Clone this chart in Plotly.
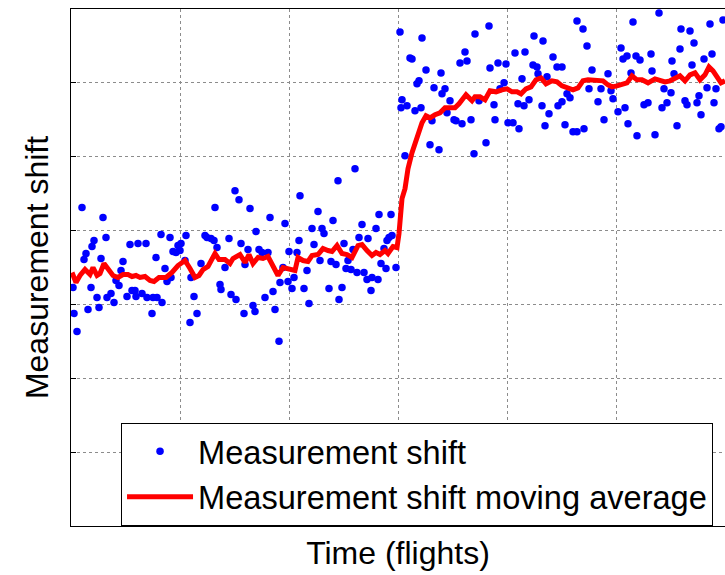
import plotly.graph_objects as go

# Scatter data (time index, shift value) (arbitrary units)
flight = [2, 3, 6, 11, 13, 15, 17, 20, 21, 23, 26, 28, 30, 32, 35, 36, 40, 43, 45, 48, 50, 52, 56, 59, 61, 64, 65, 67, 71, 75, 76, 81, 82, 85, 86, 90, 91, 94, 96, 99, 100, 102, 105, 107, 109, 110, 114, 115, 119, 120, 123, 126, 130, 134, 136, 140, 143, 144, 146, 149, 150, 154, 158, 160, 164, 165, 168, 170, 173, 174, 177, 179, 182, 184, 185, 188, 191, 194, 197, 199, 202, 204, 208, 209, 212, 214, 217, 218, 221, 223, 226, 228, 229, 233, 236, 238, 241, 243, 247, 249, 251, 253, 258, 260, 262, 265, 267, 268, 271, 273, 275, 277, 280, 282, 284, 286, 288, 291, 293, 296, 297, 300, 301, 305, 307, 308, 310, 313, 315, 316, 318, 320, 321, 325,
          329, 330, 331, 334, 336, 339, 341, 344, 346, 348, 350, 351, 355, 359, 361, 363, 368, 370, 371, 374, 376, 379, 383, 385, 389, 391, 394, 396, 400, 403, 404, 408, 415, 418, 419, 423, 424, 427, 429, 433, 435, 437, 442, 444, 447, 448, 451, 453, 454, 458, 462, 463, 466, 467, 471, 472, 474, 476, 478, 482, 486, 487, 491, 491, 494, 496, 499, 502, 506, 506, 512, 513, 516, 518, 521, 527, 530, 533, 537, 540, 542, 547, 550, 552, 554, 556, 557, 560, 562, 565, 566, 569, 573, 577, 580, 581, 584, 588, 591, 593, 596, 600, 601, 603, 606, 609, 610, 614, 616, 619, 621, 623, 626, 628, 630, 633, 636, 639, 641, 643, 645, 648, 650, 652]
shift = [239, 213, 195, 319, 267, 273, 217, 239, 280, 286, 229, 219, 268, 309, 289, 229, 233, 224, 246, 241, 256, 265, 230, 282, 236, 236, 230, 283, 233, 283, 229, 213, 229, 269, 229, 292, 224, 258, 245, 289, 249, 275, 274, 281, 276, 283, 266, 291, 204, 249, 230, 213, 263, 291, 289, 288, 286, 319, 279, 242, 237, 259, 288, 232, 336, 227, 327, 283, 213, 262, 277, 318, 221, 215, 295, 277, 274, 229, 274, 309, 235, 217, 185, 244, 259, 303, 245, 275, 238, 249, 274, 286, 331, 238, 256, 223, 298, 282, 315, 266, 298, 293, 238, 265, 306, 262, 346, 227, 239, 283, 258, 266, 257, 277, 358, 254, 289, 302, 254, 247, 288, 236, 249, 298, 247, 312, 263, 278, 258, 286, 289, 312, 291, 259,
         495, 419, 427, 371, 421, 469, 468, 416, 443, 446, 419, 489, 457, 382, 406, 439, 377, 454, 433, 438, 414, 426, 407, 406, 464, 403, 475, 466, 407, 373, 493, 426, 384, 501, 459, 422, 407, 464, 438, 444, 463, 404, 404, 474, 423, 398, 448, 421, 475, 427, 462, 491, 460, 453, 421, 486, 401, 450, 413, 470, 460, 421, 425, 460, 402, 433, 429, 395, 395, 506, 498, 398, 481, 438, 457, 425, 438, 407, 453, 436, 428, 415, 479, 468, 419, 471, 403, 454, 505, 471, 391, 467, 422, 424, 473, 456, 392, 514, 419, 438, 424, 434, 466, 453, 401, 478, 498, 426, 422, 496, 462, 484, 424, 431, 412, 468, 439, 503, 473, 424, 438, 398, 400, 507]

# Moving average line
avg_flight = [1, 5, 9, 14, 19, 22, 26, 29, 33, 37, 42, 47, 52, 57, 61, 65, 69, 74, 79, 83, 88, 95, 101, 107, 114, 119, 124, 128, 132, 137, 144, 148, 154, 159, 162, 169, 174, 178, 182, 187, 192, 197, 202, 207, 212, 219, 224, 227, 232, 237, 241, 247, 252, 257, 261, 266, 271, 276, 281, 287, 291, 296, 301, 305, 309, 314, 317, 322, 326, 328, 331, 334, 337, 341, 346, 351, 355, 359, 364, 369, 374, 379, 384, 388, 395, 401, 404, 409, 414, 419, 425, 431, 436, 441, 446, 450, 455, 460, 465, 470, 475, 481, 486, 491, 497, 502, 507, 512, 517, 522, 527, 532, 537, 541, 546, 551, 556, 561, 566, 571, 577, 584, 589, 594, 599, 604, 609, 614, 619, 624, 629, 634, 638, 642, 646, 650, 654]
avg_shift = [254, 244, 251, 257, 252, 259, 251, 253, 263, 257, 251, 249, 252, 252, 250, 251, 249, 250, 246, 245, 249, 249, 254, 261, 266, 258, 249, 251, 257, 260, 273, 267, 267, 263, 268, 272, 264, 272, 263, 269, 268, 270, 259, 251, 259, 257, 256, 269, 266, 265, 271, 272, 278, 276, 275, 281, 273, 272, 269, 281, 282, 276, 271, 274, 272, 276, 273, 280, 279, 293, 328, 338, 358, 374, 388, 404, 411, 409, 412, 414, 419, 419, 419, 423, 432, 426, 430, 430, 427, 436, 435, 437, 438, 435, 435, 433, 438, 440, 447, 449, 443, 446, 445, 441, 439, 437, 439, 446, 447, 447, 447, 446, 442, 440, 441, 443, 444, 451, 447, 447, 444, 448, 446, 445, 446, 449, 451, 446, 452, 454, 447, 452, 460, 456, 450, 444, 446]

x_ticks = [0, 109, 218, 327, 436, 545, 654]
y_ticks = [0, 74, 148, 222, 296, 370, 444, 518]

FONT = "Liberation Sans, Arial, sans-serif"

fig = go.Figure()
fig.add_trace(go.Scatter(
    x=flight, y=shift, mode="markers", name="Measurement shift",
    marker=dict(color="#0000ff", size=7.5, line=dict(width=0)),
))
fig.add_trace(go.Scatter(
    x=avg_flight, y=avg_shift, mode="lines", name="Measurement shift moving average",
    line=dict(color="#ff0000", width=5),
))

axis_common = dict(
    showline=True, linecolor="black", linewidth=1.3,
    ticks="inside", ticklen=5, tickcolor="black", tickwidth=1,
    showticklabels=False, showgrid=True, gridcolor="#8c8c8c", griddash="dot",
    gridwidth=1, zeroline=False, automargin=False,
)

fig.update_xaxes(
    range=[0, 654], tickmode="array", tickvals=x_ticks, mirror=True,
    title=dict(text="Time (flights)", font=dict(family=FONT, size=32, color="black"), standoff=15),
    **axis_common,
)
fig.update_yaxes(
    range=[0, 518], tickmode="array", tickvals=y_ticks,
    title=dict(text="Measurement shift", font=dict(family=FONT, size=32, color="black"), standoff=11),
    **axis_common,
)

fig.update_layout(
    width=725, height=575,
    margin=dict(l=71, r=0, t=9, b=49, autoexpand=False),
    plot_bgcolor="white", paper_bgcolor="white",
    font=dict(family=FONT, color="black"),
    legend=dict(
        x=0.0765, y=0.2, xanchor="left", yanchor="top",
        bgcolor="white", bordercolor="black", borderwidth=1,
        font=dict(family=FONT, size=32.6, color="black"),
        tracegroupgap=0, itemwidth=66,
    ),
    showlegend=True,
)

# remove the default page margin / scrollbars so the figure fills the window exactly
fig.write_html(
    "out.html",
    config={"displayModeBar": False},
    post_script="document.body.style.margin='0';document.body.style.overflow='hidden';"
                "document.documentElement.style.overflow='hidden';",
)
